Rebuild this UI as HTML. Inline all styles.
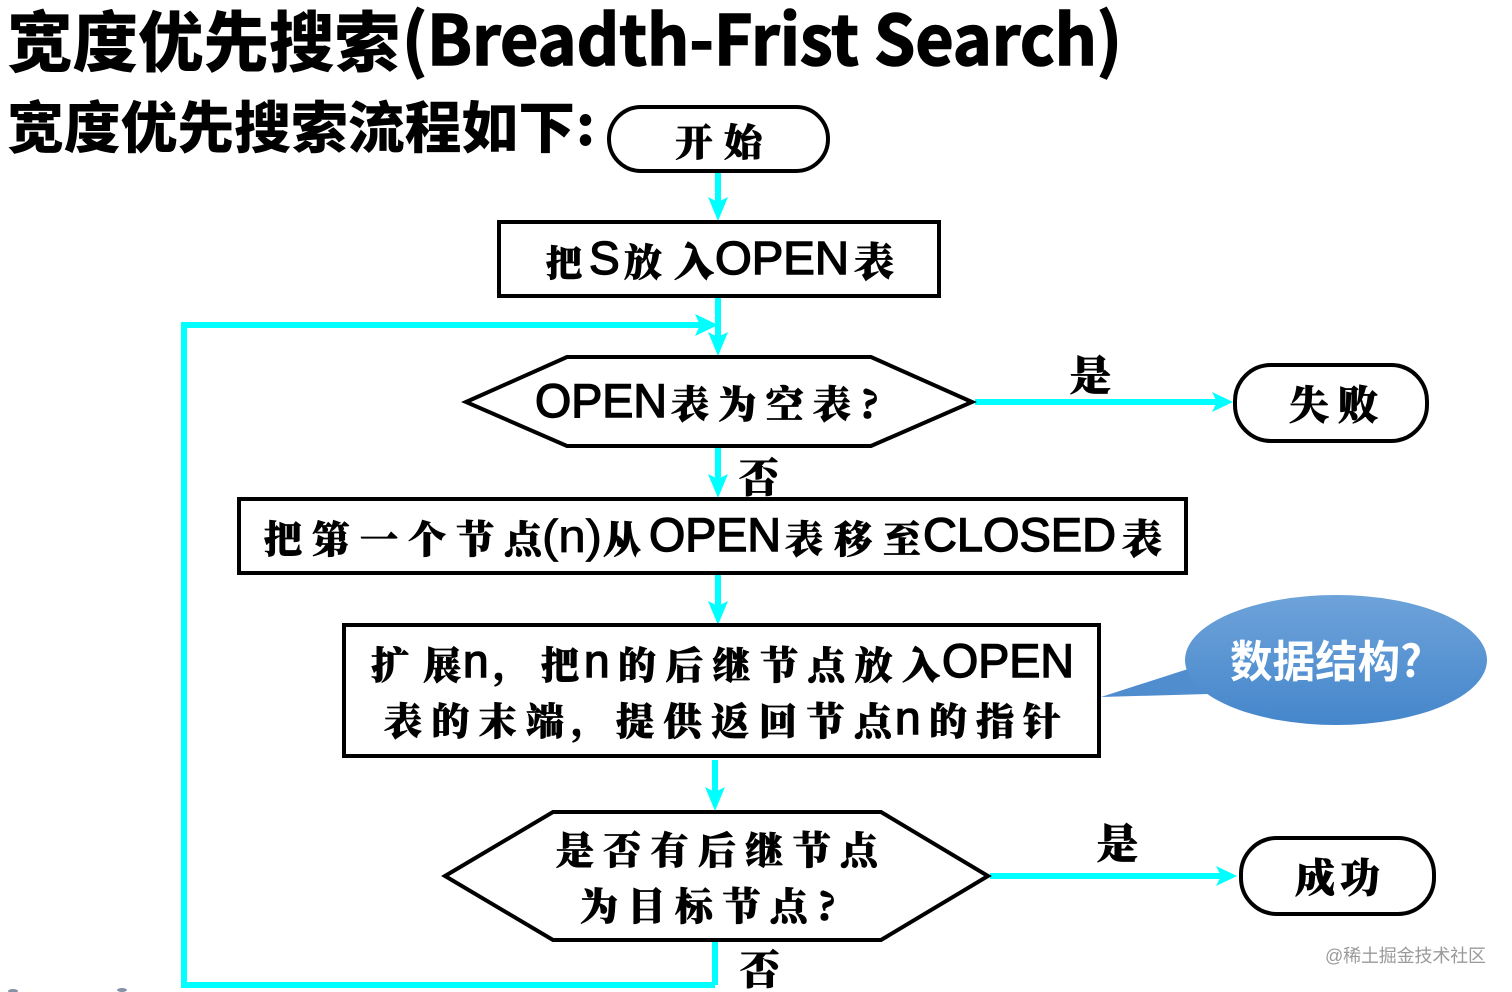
<!DOCTYPE html>
<html lang="zh">
<head>
<meta charset="utf-8">
<title>宽度优先搜索流程</title>
<style>
html,body{margin:0;padding:0;background:#fff;width:1512px;height:992px;overflow:hidden}
svg{display:block}
text{font-family:"Liberation Sans","Noto Sans CJK SC",sans-serif;fill:#000}
.h{font-weight:900;font-family:"Noto Sans CJK SC",sans-serif}
.t{font-weight:900;font-family:"Noto Serif CJK SC","Noto Sans CJK SC",serif;stroke:#000;stroke-width:.7}
.l{font-family:"Liberation Sans",sans-serif;stroke:#000;stroke-width:1.4}
.b{fill:#fff;stroke:#000;stroke-width:4}
.c{fill:none;stroke:#00ffff;stroke-width:6}
.a{fill:#00ffff}
</style>
</head>
<body>
<svg width="1512" height="992" viewBox="0 0 1512 992" xmlns="http://www.w3.org/2000/svg">
<defs>
<linearGradient id="g" x1="0" y1="0" x2="0" y2="1"><stop offset="0" stop-color="#6ea3da"/><stop offset="1" stop-color="#4586cb"/></linearGradient>
</defs>

<!-- Connectors -->
<path class="c" d="M718 172V205"/><path class="a" d="M708 197L718 202L728 197L718 221Z"/>
<path class="c" d="M718 297V340"/><path class="a" d="M708 332L718 337L728 332L718 356Z"/>
<path class="c" d="M715 985H184V325H702"/><path class="a" d="M695 314L700 325L695 336L718 325Z"/>
<path class="c" d="M715 942V985"/>
<path class="c" d="M718 447V482"/><path class="a" d="M708 474L718 479L728 474L718 498Z"/>
<path class="c" d="M718 574V610"/><path class="a" d="M708 601L718 606L728 601L718 625Z"/>
<path class="c" d="M715 760V795"/><path class="a" d="M705 787L715 792L725 787L715 811Z"/>
<path class="c" d="M975 402H1218"/><path class="a" d="M1212 392L1217 402L1212 412L1233 402Z"/>
<path class="c" d="M990 876H1222"/><path class="a" d="M1216 866L1221 876L1216 886L1237 876Z"/>

<!-- Shapes -->
<rect class="b" x="609" y="107" width="219" height="64" rx="32"/>
<rect class="b" x="499" y="222" width="440" height="74"/>
<polygon class="b" points="466,402 567,357 871,357 972,402 871,446 567,446"/>
<rect class="b" x="1235" y="365" width="192" height="76" rx="36"/>
<rect class="b" x="239" y="499" width="947" height="74"/>
<rect class="b" x="344" y="625" width="755" height="131"/>
<polygon class="b" points="445,876 553,812 881,812 988,876 881,940 553,940"/>
<rect class="b" x="1241" y="838" width="193" height="76" rx="36"/>

<!-- Callout -->
<path fill="#4f8dcf" d="M1101 697L1188 669L1208 694Z"/>
<ellipse cx="1336" cy="660" rx="151" ry="65" fill="url(#g)"/>
<text class="h" x="1230" y="677" font-size="44" style="fill:#fff;font-weight:700" textLength="192" lengthAdjust="spacingAndGlyphs">数据结构?</text>

<!-- Headings -->
<text class="h" x="7" y="66" font-size="66" textLength="393" lengthAdjust="spacingAndGlyphs">宽度优先搜索</text>
<text class="h" x="402" y="65" font-size="69" style="font-weight:700;stroke:#000;stroke-width:1.5" textLength="720" lengthAdjust="spacingAndGlyphs">(Breadth-Frist Search)</text>
<text class="h" x="7" y="148" font-size="56" textLength="568" lengthAdjust="spacingAndGlyphs">宽度优先搜索流程如下</text>
<text class="h" x="576" y="145" font-size="54">:</text>

<!-- Node labels -->
<text class="t" x="675" y="156" font-size="38" textLength="87">开始</text>

<text class="t" x="546" y="276" font-size="36">把</text>
<text class="l" x="589" y="274" font-size="46">S</text>
<text class="t" x="624" y="276" font-size="38">放</text>
<text class="t" x="674" y="276" font-size="40">入</text>
<text class="l" x="715" y="274" font-size="46" textLength="134" lengthAdjust="spacingAndGlyphs">OPEN</text>
<text class="t" x="854" y="276" font-size="40">表</text>

<text class="l" x="535" y="417" font-size="47" textLength="132" lengthAdjust="spacingAndGlyphs">OPEN</text>
<text class="t" x="671" y="418" font-size="38" textLength="208">表为空表?</text>

<text class="t" x="264" y="553" font-size="38" textLength="278">把第一个节点</text>
<text class="l" x="542" y="552" font-size="46" textLength="60" lengthAdjust="spacingAndGlyphs" style="stroke-width:.8">(n)</text>
<text class="t" x="603" y="553" font-size="38">从</text>
<text class="l" x="649" y="551" font-size="47" textLength="132" lengthAdjust="spacingAndGlyphs">OPEN</text>
<text class="t" x="785" y="553" font-size="38" textLength="136">表移至</text>
<text class="l" x="923" y="551" font-size="47" textLength="193" lengthAdjust="spacingAndGlyphs">CLOSED</text>
<text class="t" x="1122" y="553" font-size="40">表</text>

<text class="t" x="371" y="679" font-size="38" textLength="90">扩展</text>
<text class="l" x="463" y="677" font-size="46">n</text>
<text class="t" x="492" y="679" font-size="38">,</text>
<text class="t" x="541" y="679" font-size="38">把</text>
<text class="l" x="584" y="677" font-size="46">n</text>
<text class="t" x="618" y="679" font-size="38" textLength="322">的后继节点放入</text>
<text class="l" x="942" y="677" font-size="47" textLength="132" lengthAdjust="spacingAndGlyphs">OPEN</text>

<text class="t" x="384" y="735" font-size="38" textLength="180">表的末端</text>
<text class="t" x="570" y="735" font-size="38">,</text>
<text class="t" x="616" y="735" font-size="38" textLength="276">提供返回节点</text>
<text class="l" x="895" y="734" font-size="46">n</text>
<text class="t" x="929" y="735" font-size="38" textLength="132">的指针</text>

<text class="t" x="556" y="864" font-size="38" textLength="322">是否有后继节点</text>
<text class="t" x="580" y="920" font-size="38" textLength="256">为目标节点?</text>

<text class="t" x="1289" y="419" font-size="40" textLength="89">失败</text>
<text class="t" x="1295" y="892" font-size="40" textLength="85">成功</text>

<text class="t" x="1070" y="390" font-size="41">是</text>
<text class="t" x="1097" y="858" font-size="41">是</text>
<text class="t" x="739" y="492" font-size="40">否</text>
<text class="t" x="740" y="984" font-size="40">否</text>

<!-- Watermark -->
<text x="1325" y="962" font-size="18" style="fill:#9a9a9a" textLength="161">@稀土掘金技术社区</text>

<!-- Cropped fragment, bottom-left -->
<g fill="#23395f" opacity=".55">
<ellipse cx="13" cy="991" rx="5" ry="2"/>
<ellipse cx="122" cy="990" rx="5" ry="2"/>
</g>
</svg>
</body>
</html>
